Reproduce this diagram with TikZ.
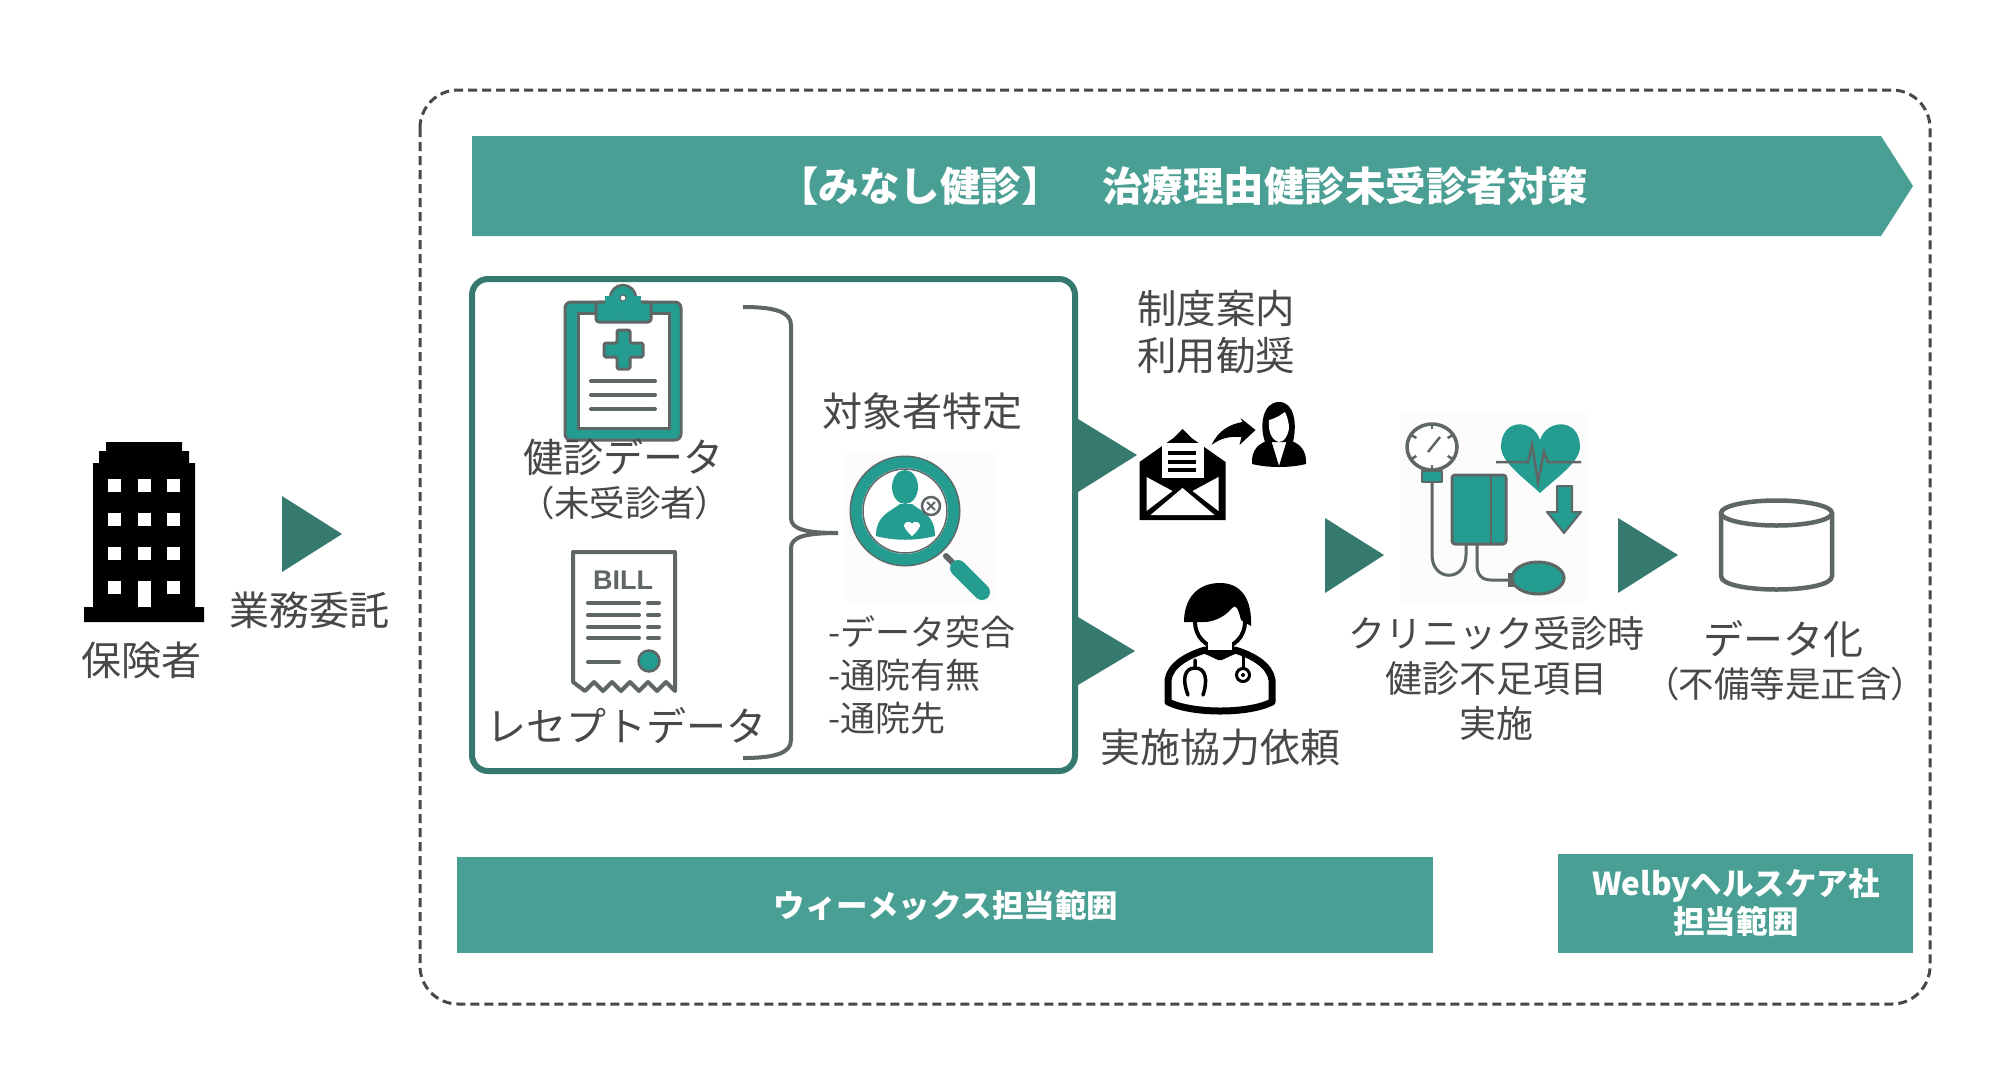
\documentclass[tikz,border=0pt]{standalone}
\usepackage{fontspec}
\newfontfamily\jp{Noto Sans CJK JP}
\newfontfamily\jpp[RawFeature=+palt]{Noto Sans CJK JP}
\usetikzlibrary{calc}
\definecolor{bandteal}{HTML}{4A9F94}
\definecolor{darkteal}{HTML}{35796F}
\definecolor{iconteal}{HTML}{259C90}
\definecolor{icongray}{HTML}{5F6666}
\definecolor{txtgray}{HTML}{484848}
\definecolor{iconback}{HTML}{FCFCFC}
\begin{document}
\begin{tikzpicture}[
x=1pt, y=-1pt,
label40/.style={font=\jp\fontsize{40}{47}\selectfont, text=txtgray, inner sep=0pt, align=center},
label35/.style={font=\jp\fontsize{35}{43}\selectfont, text=txtgray, inner sep=0pt, align=left},
band/.style={fill=bandteal, draw=none},
bandtext/.style={font=\jp\bfseries\fontsize{31.5}{38}\selectfont, text=white, inner sep=0pt, align=center},
play/.style={fill=darkteal, draw=none},
gline/.style={draw=icongray, line width=4pt, line cap=round},
tealicon/.style={fill=iconteal, draw=icongray, line width=3pt, line join=round},
]
\useasboundingbox (0,0) rectangle (2010,1080);
\fill[white] (0,0) rectangle (2010,1080);

% frames and bands
\draw[draw=txtgray, line width=3pt, dash pattern=on 9pt off 5pt, rounded corners=38pt] (420,90) rectangle (1930,1004);
\fill[band] (472,136) -- (1881,136) -- (1913,186) -- (1881,236) -- (472,236) -- cycle;
\node (title) [font=\jp\bfseries\fontsize{40.5}{48}\selectfont, text=white, inner sep=0pt] at (1183,186) {【みなし健診】　治療理由健診未受診者対策};
\fill[band] (457,857) rectangle (1433,953);
\node (wemex) [bandtext] at (946,905) {ウィーメックス担当範囲};
\fill[band] (1558,854) rectangle (1913,953);
\node (welby) [bandtext] at (1736,903) {Welbyヘルスケア社\\担当範囲};
\draw[draw=darkteal, fill=white, line width=6pt, rounded corners=16pt] (472,279) rectangle (1075,771);

% triangles
\fill[play] (282,496) -- (342,534) -- (282,572) -- cycle;
\fill[play] (1078,419) -- (1137,455) -- (1078,492) -- cycle;
\fill[play] (1078,617) -- (1135,651) -- (1078,685) -- cycle;
\fill[play] (1325,518) -- (1384,555) -- (1325,593) -- cycle;
\fill[play] (1618,518) -- (1678,555) -- (1618,593) -- cycle;

% building
\fill[black] (84,622) -- (84,607) -- (93,607) -- (93,463) -- (99,463) -- (99,451) -- (106,451) -- (106,442) -- (182,442) -- (182,451) -- (189,451) -- (189,463) -- (195,463) -- (195,607) -- (204,607) -- (204,622) -- cycle;
\foreach \wy in {479,513,547,581} {
  \foreach \wx in {108,138,167} {
    \fill[white] (\wx,\wy) rectangle ++(13,13);
  }
}
\fill[white] (138,594) rectangle (151,607);
\node (insurer) [label40] at (141,660) {保険者};
\node (outsource) [label40] at (309,610) {業務委託};

% clipboard
\draw[draw=icongray, fill=iconteal, line width=3pt, rounded corners=6pt] (565,302) rectangle (681,440);
\draw[draw=icongray, fill=white, line width=3pt] (578,313) rectangle (669,428);
\draw[tealicon, rounded corners=3pt] (596,302) rectangle (651,322);
\fill[iconteal, draw=icongray, line width=2.5pt] (623,298) circle (13);
\fill[iconteal] (605,296) rectangle (641,312);
\fill[white, draw=icongray, line width=1pt] (623,298) circle (3);
\draw[tealicon, rounded corners=1.5pt] (617,330) -- (630,330) -- (630,343) -- (643,343) -- (643,357) -- (630,357) -- (630,369) -- (617,369) -- (617,357) -- (604,357) -- (604,343) -- (617,343) -- cycle;
\foreach \ly in {381,395,409} {
  \draw[gline] (591,\ly) -- (655,\ly);
}
\node (kenshin) [label40] at (623,457) {健診データ};
\node (mijushin) [label40, font=\jpp\fontsize{35.5}{40}\selectfont] at (625,503) {（未受診者）};

% bill
\draw[draw=icongray, fill=white, line width=4pt, line join=round] (573,552) -- (675,552) -- (675,691) -- (666,682) -- (657,691) -- (648,682) -- (639,691) -- (630,682) -- (621,691) -- (612,682) -- (603,691) -- (594,682) -- (585,691) -- (573,682) -- cycle;
\node (bill) [font=\fontspec{Liberation Sans}\bfseries\fontsize{27}{30}\selectfont, text=icongray, inner sep=0pt] at (623,580) {BILL};
\foreach \ly in {603,615,627,638} {
  \draw[gline] (588,\ly) -- (639,\ly);
  \draw[gline] (648,\ly) -- (659,\ly);
}
\draw[gline] (588,662) -- (619,662);
\fill[iconteal, draw=icongray, line width=2.5pt] (649,661) circle (10.5);
\node (receipt) [label40] at (626,726) {レセプトデータ};

% brace
\draw[draw=icongray, line width=4pt] (743,307) .. controls (775,307) and (791,312) .. (791,325) -- (791,518) .. controls (791,529) and (805,533) .. (838,533) .. controls (805,533) and (791,537) .. (791,548) -- (791,740) .. controls (791,753) and (775,758) .. (743,758);

\node (target) [label40] at (922,411) {対象者特定};

% magnifier
\fill[iconback] (846,453) rectangle (997,602);
\draw[draw=icongray, line width=6pt, line cap=round] (946,556) -- (960,570);
\draw[draw=iconteal, line width=16pt, line cap=round] (958,568) -- (982,592);
\draw[draw=icongray, fill=white, line width=3pt] (905,511) circle (54);
\draw[draw=iconteal, line width=11pt] (905,511) circle (48.5);
\draw[draw=icongray, line width=1.5pt] (905,511) circle (42);
\fill[iconteal] (905,487) ellipse (13 and 17);
\fill[iconteal] (876,536) .. controls (876,515) and (890,512) .. (900,504) -- (912,504) .. controls (922,512) and (935,515) .. (935,536) .. controls (915,541) and (895,541) .. (876,536) -- cycle;
\fill[white] (912,536) .. controls (905,530) and (904,526) .. (904,525) .. controls (905,521) and (911,521) .. (912,524) .. controls (913,521) and (919,521) .. (920,525) .. controls (920,526) and (919,530) .. (912,536) -- cycle;
\draw[draw=icongray, fill=white, line width=2.5pt] (931,506) circle (9);
\draw[draw=icongray, line width=2pt] (927,502) -- (935,510) (935,502) -- (927,510);

\node (checks) [label35, anchor=west] at (828,675) {-データ突合\\-通院有無\\-通院先};

% envelope and woman
\node (guide) [label40, font=\jp\fontsize{39.5}{47}\selectfont] at (1216,332) {制度案内\\利用勧奨};
\begin{scope}[xshift=-1.5pt]
\fill[black] (1141,520) -- (1141,462) -- (1175,438) -- (1184,429) -- (1193,438) -- (1227,462) -- (1227,520) -- cycle;
\fill[white] (1163,443) rectangle (1205,478);
\fill[white] (1148,477) -- (1148,511) -- (1174,491) -- cycle;
\fill[white] (1220,477) -- (1220,511) -- (1194,491) -- cycle;
\fill[white] (1152,515) -- (1184,488) -- (1216,515) -- cycle;
\draw[black, line width=3.5pt] (1169,453) -- (1197,453) (1169,462) -- (1197,462) (1169,470) -- (1197,470);
\fill[black] (1213,445) .. controls (1220,430) and (1232,424) .. (1244,422) -- (1242,418) -- (1257,430) -- (1241,445) -- (1243,437) .. controls (1232,436) and (1222,438) .. (1213,445) -- cycle;
\end{scope}
\begin{scope}[xshift=-3pt]
\fill[black] (1268,442) .. controls (1262,425) and (1266,402) .. (1282,402) .. controls (1298,402) and (1300,425) .. (1296,442) -- cycle;
\fill[white] (1282,442) .. controls (1273,440) and (1271,428) .. (1272,420) .. controls (1280,418) and (1285,414) .. (1288,412) .. controls (1291,418) and (1292,424) .. (1292,428) .. controls (1291,436) and (1287,442) .. (1282,442) -- cycle;
\fill[black] (1255,464) .. controls (1254,450) and (1262,442) .. (1274,440) -- (1282,466) -- (1290,440) .. controls (1302,442) and (1310,450) .. (1309,464) .. controls (1292,468) and (1272,468) .. (1255,464) -- cycle;
\fill[white] (1277,444) -- (1287,444) -- (1282,463) -- cycle;
\end{scope}

% doctor
\begin{scope}[xshift=-2pt]
\draw[draw=black, fill=white, line width=7pt, line join=round] (1207,650) .. controls (1190,655) and (1172,665) .. (1170,680) -- (1170,702) .. controls (1195,714) and (1250,714) .. (1274,702) -- (1274,680) .. controls (1272,665) and (1254,655) .. (1237,650) -- (1222,657) -- cycle;
\fill[black] (1208,636) rectangle (1236,655);
\draw[draw=black, fill=white, line width=4pt] (1222,622) ellipse (25 and 26);
\fill[white] (1210,640) rectangle (1234,650);
\fill[black] (1186,622) .. controls (1186,600) and (1198,583) .. (1222,583) .. controls (1244,583) and (1254,600) .. (1253,626) -- (1243,620) .. controls (1240,608) and (1238,604) .. (1234,608) .. controls (1226,618) and (1214,622) .. (1206,622) -- cycle;
\draw[black, line width=3.5pt, line cap=round] (1197,660) -- (1197,668) (1190,695) .. controls (1184,680) and (1186,668) .. (1197,668) .. controls (1208,668) and (1210,680) .. (1205,695);
\draw[black, line width=3pt] (1245,656) -- (1245,668);
\draw[black, fill=white, line width=3pt] (1245,675) circle (6.5);
\fill[black] (1245,675) circle (2);
\end{scope}
\node (request) [label40] at (1220,747) {実施協力依頼};

% blood pressure
\fill[iconback] (1400,413) rectangle (1586,602);
\begin{scope}[xshift=-6pt]
\draw[draw=icongray, fill=white, line width=3.5pt] (1438,447) ellipse (25 and 23);
\foreach \ang in {90,30,-30,150,210,270} {
  \draw[draw=icongray, line width=2.5pt] ($(1438,447)+(\ang:24)$) -- ($(1438,447)+(\ang:18)$);
}
\draw[draw=icongray, line width=2.5pt] (1434,452) -- (1446,437);
\draw[tealicon, line width=1.5pt] (1428,471) rectangle (1448,482);
\draw[draw=icongray, line width=3pt] (1438,482) -- (1438,555) .. controls (1438,582) and (1472,582) .. (1472,555) -- (1472,544);
\draw[draw=icongray, line width=3pt] (1483,544) -- (1483,565) .. controls (1483,575) and (1488,580) .. (1497,580) -- (1516,580);
\draw[tealicon, rounded corners=3pt] (1458,475) rectangle (1512,544);
\draw[draw=icongray, line width=2pt] (1497,475) -- (1497,544);
\fill[icongray] (1514,573) rectangle (1522,587);
\draw[tealicon] (1544,578) ellipse (26 and 16);
\fill[iconteal] (1546,493) .. controls (1530,478) and (1507,462) .. (1507,447) .. controls (1507,418) and (1539,418) .. (1546,440) .. controls (1553,418) and (1586,418) .. (1586,447) .. controls (1586,462) and (1562,478) .. (1546,493) -- cycle;
\draw[draw=icongray, line width=2.5pt] (1502,462) -- (1528,462) -- (1534,462) -- (1538,445) -- (1544,482) -- (1550,452) -- (1554,462) -- (1587,462);
\draw[tealicon, line width=2pt] (1563,486) -- (1578,486) -- (1578,512) -- (1587,512) -- (1570,533) -- (1553,512) -- (1563,512) -- cycle;
\end{scope}
\node (clinic) [label40, font=\jp\fontsize{37}{45}\selectfont] at (1496,678) {クリニック受診時\\健診不足項目\\実施};

% database
\draw[draw=icongray, fill=white, line width=4.5pt] (1721,513) -- (1721,576) .. controls (1721,594) and (1832,594) .. (1832,576) -- (1832,513);
\draw[draw=icongray, line width=4.5pt] (1776.5,513) ellipse (55.5 and 12.5);
\node (datafy) [label40] at (1783,639) {データ化};
\node (fix) [label40, font=\jpp\fontsize{35.5}{40}\selectfont] at (1785,684) {（不備等是正含）};
\end{tikzpicture}
\end{document}
